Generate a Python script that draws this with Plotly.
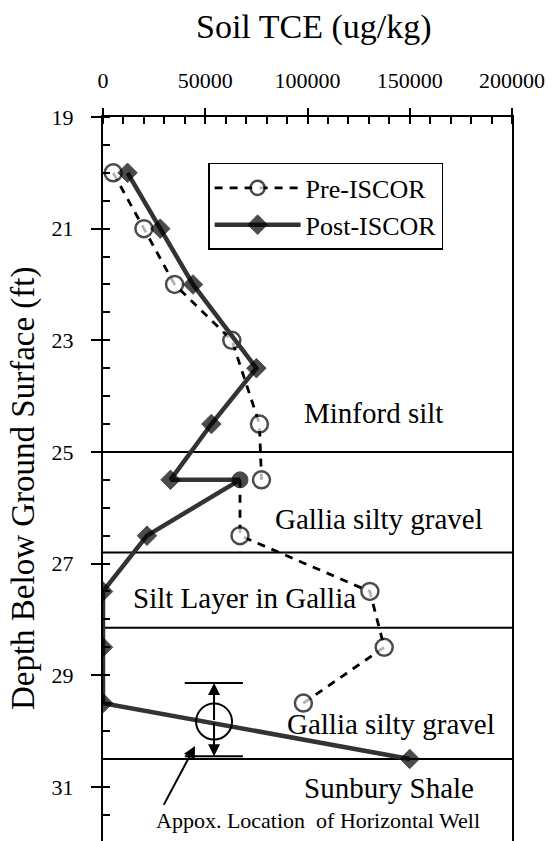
import plotly.graph_objects as go

# ---------------- data ----------------
pre_depth = [20, 21, 22, 23, 24.5, 25.5, 26.5, 27.5, 28.5, 29.5]
pre_tce = [5000, 20000, 35000, 63000, 76500, 77500, 67000, 130500, 137500, 98000]

post_depth = [20, 21, 22, 23.5, 24.5, 25.5, 25.5, 26.5, 27.5, 28.5, 29.5, 30.5]
post_tce = [12000, 28000, 44000, 75000, 53000, 33000, 67000, 21500, 0, 0, 0, 150000]
post_symbol = ["diamond"] * 6 + ["circle"] + ["diamond"] * 5

layer_bounds = [25, 26.8, 28.15, 30.5]
layer_names = ["Minford silt", "Gallia silty gravel", "Silt Layer in Gallia",
               "Gallia silty gravel", "Sunbury Shale"]
layer_label_x = [132500, 135000, 69000, 141000, 140000]
layer_label_y = [24.30, 26.20, 27.61, 29.87, 31.02]

x_ticks = [0, 50000, 100000, 150000, 200000]
x_ticktext = ["0", "50000", "100000", "150000", "200000"]
y_ticks = [19, 21, 23, 25, 27, 29, 31]

x_title = "Soil TCE (ug/kg)"
y_title = "Depth Below Ground Surface (ft)"

# horizontal well symbol (approx. location)
well_x = 54300
well_depth = 29.83
well_top, well_bottom = 29.14, 30.45
well_bar = [40000, 68400]
well_note = "Appox. Location  of Horizontal Well"

FONT = "Liberation Serif, Times New Roman, serif"

# pre line with a break at the shared 25.5 ft sample (line continues from the 67000 joint)
joint = post_tce[6]
pre_line_x = pre_tce[:6] + [None, joint] + pre_tce[6:]
pre_line_y = pre_depth[:6] + [None, pre_depth[5]] + pre_depth[6:]
pre_sizes = [17] * 6 + [0, 0] + [17] * 4

fig = go.Figure()

fig.add_trace(go.Scatter(
    x=pre_line_x, y=pre_line_y, name="Pre-ISCOR", mode="lines+markers",
    line=dict(color="black", width=2.8, dash="8px,7px"),
    marker=dict(symbol="circle", size=pre_sizes, color="white",
                line=dict(color="black", width=2.5)),
    connectgaps=False,
))
fig.add_trace(go.Scatter(
    x=post_tce, y=post_depth, name="Post-ISCOR", mode="lines+markers",
    line=dict(color="#333333", width=4.5),
    marker=dict(symbol=post_symbol, size=[15] * 6 + [16] + [15] * 5, color="black",
                line=dict(color="black", width=1)),
))
# helper trace for the overlaid tick axes
fig.add_trace(go.Scatter(x=post_tce, y=post_depth, mode="none", xaxis="x2", yaxis="y2",
                         showlegend=False, hoverinfo="skip"))

# layer boundary lines
for d in layer_bounds:
    fig.add_shape(type="line", xref="x", yref="y", x0=x_ticks[0], x1=x_ticks[-1], y0=d, y1=d,
                  line=dict(color="black", width=2), layer="below")

for name, lx, ly in zip(layer_names, layer_label_x, layer_label_y):
    fig.add_annotation(x=lx, y=ly, xref="x", yref="y", text=name, showarrow=False,
                       font=dict(family=FONT, size=29, color="black"))

# well symbol
r_x, r_y = 8800, 0.322
fig.add_shape(type="circle", xref="x", yref="y", x0=well_x - r_x, x1=well_x + r_x,
              y0=well_depth - r_y, y1=well_depth + r_y, line=dict(color="black", width=2))
for yb in (well_top, well_bottom):
    fig.add_shape(type="line", xref="x", yref="y", x0=well_bar[0], x1=well_bar[1], y0=yb, y1=yb,
                  line=dict(color="black", width=2))
for tip in (well_top, well_bottom):
    fig.add_annotation(x=well_x, y=tip, ax=well_x, ay=well_depth, xref="x", yref="y",
                       axref="x", ayref="y", text="", showarrow=True, arrowhead=2,
                       arrowsize=1.2, arrowwidth=2, arrowcolor="black")
# pointer arrow
fig.add_annotation(x=45000, y=30.27, ax=29300, ay=31.35, xref="x", yref="y",
                   axref="x", ayref="y", text="", showarrow=True, arrowhead=2,
                   arrowsize=1.2, arrowwidth=2, arrowcolor="black")
fig.add_annotation(x=105000, y=31.6, xref="x", yref="y", text=well_note, showarrow=False,
                   font=dict(family=FONT, size=22, color="black"))

# axis titles placed as annotations (paper coordinates)
fig.add_annotation(x=0.517, y=1.124, xref="paper", yref="paper", text=x_title, showarrow=False,
                   xanchor="center", yanchor="middle",
                   font=dict(family=FONT, size=34, color="black"))
fig.add_annotation(x=-0.193, y=0.4876, xref="paper", yref="paper", text=y_title, showarrow=False,
                   textangle=-90, xanchor="center", yanchor="middle",
                   font=dict(family=FONT, size=33, color="black"))

y_range = [31.97, 19]
fig.update_layout(
    width=552, height=841,
    margin=dict(l=103, r=40, t=117, b=0),
    paper_bgcolor="white", plot_bgcolor="white",
    font=dict(family=FONT, color="black"),
    showlegend=True,
    legend=dict(x=0.257, y=0.9365, xanchor="left", yanchor="top",
                bordercolor="black", borderwidth=1.5, bgcolor="white",
                font=dict(family=FONT, size=26, color="black"), itemwidth=86),
    xaxis=dict(range=[0, 200000], side="top", tickvals=x_ticks, ticktext=x_ticktext,
               automargin=False,
               showline=True, linecolor="black", linewidth=2, mirror=False,
               ticks="outside", ticklen=7, tickwidth=2, tickcolor="black",
               minor=dict(ticks="inside", dtick=10000, ticklen=7, tickwidth=1.5, tickcolor="black"),
               showgrid=False, zeroline=False,
               tickfont=dict(family=FONT, size=22, color="black"), ticklabelstandoff=11),
    yaxis=dict(range=y_range, tickvals=y_ticks, showline=True, linecolor="black", linewidth=2,
               automargin=False,
               mirror=True, ticks="outside", ticklen=10, tickwidth=2, tickcolor="black",
               minor=dict(ticks="inside", dtick=0.5, ticklen=7, tickwidth=1.5, tickcolor="black"),
               showgrid=False, zeroline=False,
               tickfont=dict(family=FONT, size=22, color="black"), ticklabelstandoff=13),
    xaxis2=dict(overlaying="x", matches="x", side="top", anchor="y2", showline=False,
                automargin=False,
                tickvals=x_ticks, ticks="inside", ticklen=7, tickwidth=2, tickcolor="black",
                showticklabels=False, showgrid=False, zeroline=False),
    yaxis2=dict(overlaying="y", matches="y", side="left", anchor="x2", showline=False,
                automargin=False,
                tickvals=y_ticks, ticks="inside", ticklen=7, tickwidth=2, tickcolor="black",
                showticklabels=False, showgrid=False, zeroline=False),
)

# remove the default 8px page margin so the figure fills the 552x841 window exactly
fig.write_html("out.html", config={"displayModeBar": False},
               post_script="document.body.style.margin='0';")
